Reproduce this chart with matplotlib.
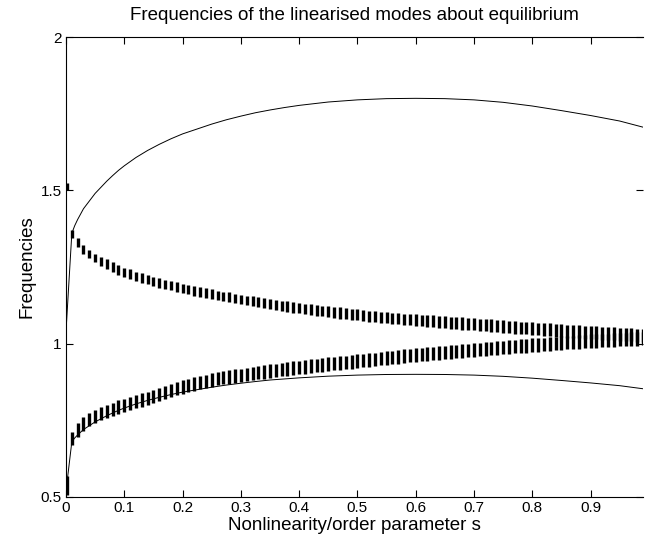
import matplotlib
matplotlib.use("Agg")
import matplotlib.pyplot as plt
import numpy as np

plt.rcParams["font.family"] = ["Liberation Sans", "DejaVu Sans"]

# edges of the continuous spectrum (thin curves)
s_curve = [0.0, 0.01, 0.015, 0.02, 0.03, 0.04, 0.05, 0.06, 0.07, 0.08, 0.09, 0.10,
           0.12, 0.14, 0.16, 0.18, 0.20, 0.225, 0.25, 0.275, 0.30, 0.325, 0.35, 0.375,
           0.40, 0.45, 0.50, 0.55, 0.60, 0.65, 0.70, 0.75, 0.80, 0.85, 0.90, 0.95, 0.99]
upper_edge = [1.04, 1.36, 1.385, 1.405, 1.44, 1.465, 1.49, 1.51, 1.53, 1.548, 1.565, 1.58,
              1.607, 1.63, 1.65, 1.668, 1.684, 1.70, 1.716, 1.73, 1.742, 1.753, 1.762, 1.77,
              1.777, 1.788, 1.795, 1.799, 1.80, 1.799, 1.795, 1.787, 1.775, 1.76, 1.744,
              1.726, 1.706]
lower_edge = [0.52, 0.68, 0.6925, 0.7025, 0.72, 0.7325, 0.745, 0.755, 0.765, 0.774, 0.7825,
              0.79, 0.8035, 0.815, 0.825, 0.834, 0.842, 0.85, 0.858, 0.865, 0.871, 0.8765,
              0.8815, 0.885, 0.8885, 0.894, 0.8975, 0.8995, 0.90, 0.8995, 0.8975, 0.8935,
              0.8875, 0.88, 0.872, 0.863, 0.853]

# discrete mode bands, one bar per s = 0.01 ... 0.99
s_bars = np.round(np.arange(1, 100) * 0.01, 2)
hi_band_top = [
    1.370, 1.343, 1.323, 1.307, 1.294, 1.284, 1.275, 1.265, 1.255, 1.248,
    1.242, 1.235, 1.229, 1.224, 1.219, 1.214, 1.209, 1.205, 1.200, 1.196,
    1.192, 1.188, 1.184, 1.180, 1.177, 1.173, 1.170, 1.167, 1.163, 1.160,
    1.157, 1.154, 1.151, 1.148, 1.146, 1.143, 1.140, 1.138, 1.135, 1.133,
    1.130, 1.128, 1.126, 1.124, 1.122, 1.120, 1.118, 1.116, 1.114, 1.112,
    1.110, 1.108, 1.106, 1.104, 1.103, 1.101, 1.100, 1.098, 1.097, 1.096,
    1.095, 1.093, 1.092, 1.091, 1.090, 1.088, 1.087, 1.086, 1.084, 1.083,
    1.082, 1.080, 1.079, 1.078, 1.076, 1.075, 1.074, 1.072, 1.071, 1.070,
    1.068, 1.067, 1.066, 1.064, 1.063, 1.062, 1.061, 1.060, 1.058, 1.057,
    1.056, 1.055, 1.054, 1.053, 1.052, 1.051, 1.050, 1.049, 1.049]
hi_band_bot = [
    1.343, 1.314, 1.294, 1.278, 1.265, 1.254, 1.244, 1.234, 1.225, 1.217,
    1.211, 1.204, 1.198, 1.193, 1.188, 1.183, 1.178, 1.174, 1.169, 1.165,
    1.161, 1.157, 1.153, 1.149, 1.146, 1.142, 1.139, 1.135, 1.131, 1.128,
    1.125, 1.122, 1.119, 1.116, 1.113, 1.110, 1.107, 1.104, 1.101, 1.099,
    1.096, 1.094, 1.091, 1.089, 1.087, 1.084, 1.082, 1.080, 1.078, 1.076,
    1.074, 1.072, 1.070, 1.068, 1.066, 1.064, 1.063, 1.061, 1.060, 1.058,
    1.057, 1.055, 1.054, 1.052, 1.051, 1.049, 1.048, 1.046, 1.045, 1.043,
    1.042, 1.040, 1.039, 1.037, 1.036, 1.034, 1.033, 1.031, 1.030, 1.028,
    1.027, 1.025, 1.024, 1.022, 1.021, 1.020, 1.019, 1.017, 1.016, 1.015,
    1.014, 1.013, 1.012, 1.011, 1.010, 1.009, 1.008, 1.007, 1.006]
lo_band_top = [
    0.713, 0.740, 0.760, 0.774, 0.784, 0.793, 0.801, 0.808, 0.815, 0.821,
    0.827, 0.832, 0.838, 0.844, 0.850, 0.856, 0.862, 0.868, 0.874, 0.880,
    0.885, 0.890, 0.895, 0.899, 0.903, 0.907, 0.910, 0.913, 0.916, 0.919,
    0.922, 0.925, 0.928, 0.930, 0.933, 0.935, 0.937, 0.940, 0.942, 0.944,
    0.946, 0.949, 0.951, 0.953, 0.955, 0.957, 0.959, 0.961, 0.963, 0.965,
    0.967, 0.969, 0.971, 0.973, 0.975, 0.977, 0.979, 0.981, 0.983, 0.985,
    0.987, 0.988, 0.990, 0.992, 0.993, 0.995, 0.997, 0.998, 1.000, 1.002,
    1.003, 1.005, 1.006, 1.008, 1.009, 1.011, 1.012, 1.014, 1.015, 1.017,
    1.018, 1.020, 1.021, 1.022, 1.024, 1.025, 1.026, 1.028, 1.029, 1.030,
    1.031, 1.032, 1.033, 1.034, 1.035, 1.036, 1.037, 1.038, 1.039]
lo_band_bot = [
    0.670, 0.696, 0.716, 0.730, 0.741, 0.750, 0.758, 0.765, 0.772, 0.778,
    0.784, 0.789, 0.795, 0.801, 0.807, 0.813, 0.819, 0.825, 0.831, 0.837,
    0.842, 0.847, 0.852, 0.856, 0.860, 0.864, 0.867, 0.870, 0.873, 0.876,
    0.879, 0.881, 0.884, 0.886, 0.889, 0.891, 0.893, 0.896, 0.898, 0.900,
    0.902, 0.905, 0.907, 0.909, 0.911, 0.913, 0.915, 0.917, 0.919, 0.921,
    0.923, 0.925, 0.927, 0.929, 0.931, 0.933, 0.935, 0.937, 0.939, 0.941,
    0.943, 0.944, 0.946, 0.948, 0.949, 0.951, 0.953, 0.954, 0.956, 0.958,
    0.959, 0.961, 0.962, 0.964, 0.965, 0.967, 0.968, 0.970, 0.971, 0.973,
    0.974, 0.976, 0.977, 0.978, 0.980, 0.981, 0.982, 0.984, 0.985, 0.986,
    0.987, 0.988, 0.989, 0.990, 0.991, 0.992, 0.993, 0.994, 0.995]

# the s = 0 modes
s0_lo = [0.505, 0.57]
s0_hi = [1.50, 1.525]

xticks = [0, 0.1, 0.2, 0.3, 0.4, 0.5, 0.6, 0.7, 0.8, 0.9]
xlabels = ["0", "0.1", "0.2", "0.3", "0.4", "0.5", "0.6", "0.7", "0.8", "0.9"]
yticks = [0.5, 1, 1.5, 2]
ylabels = ["0.5", "1", "1.5", "2"]

fig = plt.figure(figsize=(6.45, 5.36), dpi=100)
ax = fig.add_axes([66 / 645, 1 - 497 / 536, 577 / 645, 460 / 536])

ax.plot(s_curve, upper_edge, color="k", lw=0.7)
ax.plot(s_curve, lower_edge, color="k", lw=0.7)
ax.vlines(s_bars, hi_band_bot, hi_band_top, color="k", lw=2.4)
ax.vlines(s_bars, lo_band_bot, lo_band_top, color="k", lw=2.4)
ax.vlines([0.001, 0.001], [s0_lo[0], s0_hi[0]], [s0_lo[1], s0_hi[1]], color="k", lw=2.4)

ax.set_xlim(0, 0.99)
ax.set_ylim(0.5, 2)
ax.set_xticks(xticks)
ax.set_xticklabels(xlabels)
ax.set_yticks(yticks)
ax.set_yticklabels(ylabels)
ax.tick_params(direction="in", length=5, width=0.8, top=True, right=True,
               labelsize=11, pad=3)
ax.spines["right"].set_visible(False)
for sp in ("left", "bottom", "top"):
    ax.spines[sp].set_linewidth(0.8)

ax.set_title("Frequencies of the linearised modes about equilibrium", fontsize=13.5, pad=12)
ax.set_xlabel("Nonlinearity/order parameter s", fontsize=13.5, labelpad=1)
ax.set_ylabel("Frequencies", fontsize=13.5, labelpad=4)

fig.savefig("out.png", dpi=100)
